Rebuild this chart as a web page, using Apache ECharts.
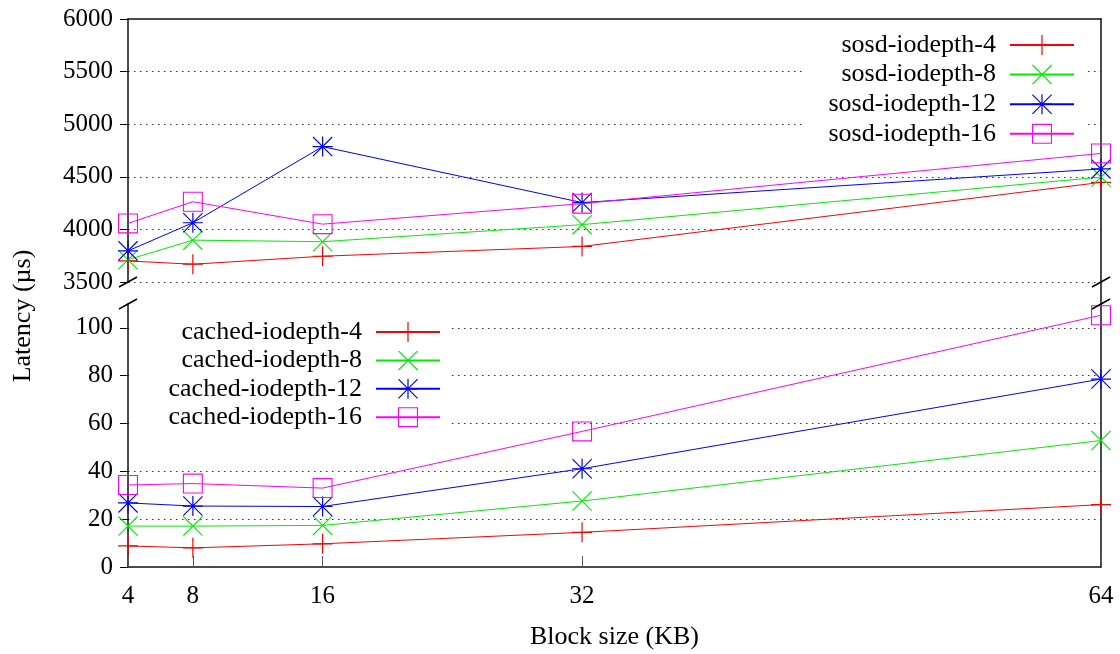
<!DOCTYPE html>
<html>
<head>
<meta charset="utf-8">
<script src="https://cdn.jsdelivr.net/npm/echarts@6/dist/echarts.min.js"></script>
<style>
  html, body { margin: 0; padding: 0; background: #fff; }
  #chart { width: 1120px; height: 654px; }
</style>
</head>
<body>
<div id="chart"></div>
<script>
// Block sizes (KB) on the x axis
const blockSizes = [4, 8, 16, 32, 64];
const xTicks = [4, 8, 16, 32, 64];

// Latency (µs) of the sosd runs – upper panel
const sosdNames = ['sosd-iodepth-4', 'sosd-iodepth-8', 'sosd-iodepth-12', 'sosd-iodepth-16'];
const sosd4  = [3700, 3669, 3745, 3838, 4447];
const sosd8  = [3712, 3898, 3883, 4045, 4497];
const sosd12 = [3796, 4063, 4787, 4255, 4575];
const sosd16 = [4057, 4263, 4050, 4245, 4722];

// Latency (µs) of the cached runs – lower panel
const cachedNames = ['cached-iodepth-4', 'cached-iodepth-8', 'cached-iodepth-12', 'cached-iodepth-16'];
const cached4  = [8.8, 8.0, 9.7, 14.5, 26.1];
const cached8  = [17.1, 17.1, 17.4, 27.6, 52.9];
const cached12 = [26.8, 25.5, 25.3, 41.1, 78.6];
const cached16 = [34.3, 34.9, 33.0, 56.7, 105.3];

const colors = ['#ff0000', '#00ee00', '#0000ff', '#ff00ff'];

// Gnuplot-style point types drawn as thin filled outlines
const plusPath  = 'path://M9.4 0H10.6V9.4H20V10.6H10.6V20H9.4V10.6H0V9.4H9.4Z';
const crossD    = 'M0 0.8L0.8 0L20 19.2L19.2 20Z M20 0.8L0.8 20L0 19.2L19.2 0Z';
const crossPath = 'path://' + crossD;
const starPath  = 'path://M9.4 0H10.6V9.4H20V10.6H10.6V20H9.4V10.6H0V9.4H9.4Z ' + crossD;
const boxPath   = 'path://M0 0H20V20H0Z M1.1 1.1V18.9H18.9V1.1Z';
const symbols = [plusPath, crossPath, starPath, boxPath];

const FONT = 'Liberation Serif';

function pairs(ys) {
  return blockSizes.map((x, i) => [x, ys[i]]);
}

function makeSeries(names, lists, axisIdx) {
  return names.map((name, i) => ({
    name: name,
    type: 'line',
    xAxisIndex: axisIdx,
    yAxisIndex: axisIdx,
    data: pairs(lists[i]),
    symbol: symbols[i],
    symbolSize: 20,
    showAllSymbol: true,
    clip: false,
    color: colors[i],
    itemStyle: { color: colors[i] },
    lineStyle: { color: colors[i], width: 1 },
    emphasis: { disabled: true },
    z: 3 + i
  }));
}

const dotted = { color: '#333', width: 1, type: [1.5, 4.5] };
const axisLineStyle = { color: '#111', width: 1.5 };
const tickFont = { fontFamily: FONT, fontSize: 25, color: '#000' };
const titleFont = { fontFamily: FONT, fontSize: 26, color: '#000' };
const plain = v => String(v);

function legendFor(names, width, pos) {
  return Object.assign({
    data: names,
    orient: 'vertical',
    align: 'right',
    itemWidth: 64,
    itemHeight: 25,
    backgroundColor: '#fff',
    formatter: name => '{t|' + name + '}',
    textStyle: {
      rich: {
        t: { width: width, align: 'right', padding: [0, 9, 0, 0],
             fontFamily: FONT, fontSize: 26, color: '#000', lineHeight: 25 }
      }
    },
    selectedMode: false,
    z: 10
  }, pos);
}

const chart = echarts.init(document.getElementById('chart'), null, { renderer: 'canvas' });

const option = {
  animation: false,
  backgroundColor: '#fff',
  grid: [
    { left: 128, right: 19, top: 19, height: 263 },
    { left: 128, right: 19, top: 304, height: 263 }
  ],
  xAxis: [
    {
      type: 'value', gridIndex: 0, min: 4, max: 64, position: 'top',
      axisLine: { show: true, onZero: false, lineStyle: axisLineStyle },
      axisTick: { show: false }, axisLabel: { show: false }, splitLine: { show: false }
    },
    {
      type: 'value', gridIndex: 1, min: 4, max: 64, position: 'bottom',
      name: 'Block size (KB)', nameLocation: 'middle', nameGap: 57,
      nameTextStyle: titleFont,
      axisLine: { show: true, onZero: false, lineStyle: axisLineStyle },
      axisTick: { show: true, inside: true, length: 11, customValues: xTicks,
                  lineStyle: { color: '#555', width: 1 } },
      axisLabel: Object.assign({ margin: 17, customValues: xTicks, formatter: plain }, tickFont),
      splitLine: { show: false }
    }
  ],
  yAxis: [
    {
      type: 'value', gridIndex: 0, min: 3500, max: 6000, interval: 500,
      axisLine: { show: true, onZero: false, lineStyle: axisLineStyle },
      axisTick: { show: true, length: 8, lineStyle: { color: '#000', width: 1 } },
      axisLabel: Object.assign({ margin: 15, formatter: plain }, tickFont),
      splitLine: { show: true, showMinLine: true, showMaxLine: false, lineStyle: dotted }
    },
    {
      type: 'value', gridIndex: 1, min: 0, max: 110, interval: 20,
      axisLine: { show: true, onZero: false, lineStyle: axisLineStyle },
      axisTick: { show: true, length: 8, lineStyle: { color: '#000', width: 1 } },
      axisLabel: Object.assign({ margin: 15, showMaxLabel: false, formatter: plain }, tickFont),
      splitLine: { show: true, showMinLine: false, showMaxLine: false, lineStyle: dotted }
    },
    {
      type: 'value', gridIndex: 0, min: 0, max: 1, position: 'right',
      axisLine: { show: true, onZero: false, lineStyle: axisLineStyle },
      axisTick: { show: false }, axisLabel: { show: false }, splitLine: { show: false }
    },
    {
      type: 'value', gridIndex: 1, min: 0, max: 1, position: 'right',
      axisLine: { show: true, onZero: false, lineStyle: axisLineStyle },
      axisTick: { show: false }, axisLabel: { show: false }, splitLine: { show: false }
    }
  ],
  legend: [
    legendFor(sosdNames, 183, { right: 33, top: 24, padding: [8, 12, 4, 8], itemGap: 3.6 }),
    legendFor(cachedNames, 200, { left: 129, top: 311, padding: [8, 10, 6, 33], itemGap: 2.4 })
  ],
  series: [].concat(
    makeSeries(sosdNames, [sosd4, sosd8, sosd12, sosd16], 0),
    makeSeries(cachedNames, [cached4, cached8, cached12, cached16], 1)
  )
};

chart.setOption(option);

// Axis-break slashes, the right border across the gap, and the y-axis title
const topLeft  = chart.convertToPixel({ xAxisIndex: 0, yAxisIndex: 0 }, [4, 3500]);
const topRight = chart.convertToPixel({ xAxisIndex: 0, yAxisIndex: 0 }, [64, 3500]);
const botLeft  = chart.convertToPixel({ xAxisIndex: 1, yAxisIndex: 1 }, [4, 110]);
const botRight = chart.convertToPixel({ xAxisIndex: 1, yAxisIndex: 1 }, [64, 110]);

function slash(p) {
  return {
    type: 'line', silent: true, z: 20,
    shape: { x1: p[0] - 9, y1: p[1] + 5, x2: p[0] + 9, y2: p[1] - 5 },
    style: { stroke: '#000', lineWidth: 1.5 }
  };
}

chart.setOption({
  graphic: [
    slash(topLeft), slash(topRight), slash(botLeft), slash(botRight),
    {
      type: 'line', silent: true, z: 20,
      shape: { x1: topRight[0], y1: topRight[1], x2: botRight[0], y2: botRight[1] },
      style: { stroke: '#111', lineWidth: 1.5 }
    },
    {
      type: 'text', silent: true, z: 20,
      x: 23, y: 316, rotation: Math.PI / 2,
      style: { text: 'Latency (µs)', fontFamily: FONT, fontSize: 26, fill: '#000',
               align: 'center', verticalAlign: 'middle' }
    }
  ]
});
</script>
</body>
</html>
